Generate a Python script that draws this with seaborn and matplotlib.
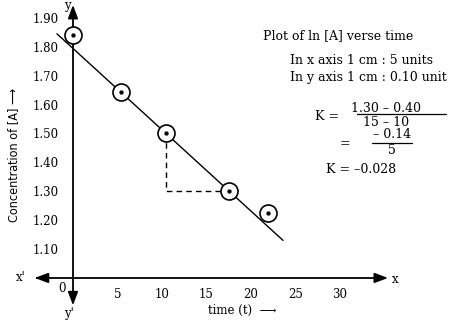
import matplotlib
matplotlib.use("Agg")
import matplotlib.pyplot as plt
import seaborn as sns
import pandas as pd

sns.set_style("white")
plt.rcParams['font.family'] = ['DejaVu Serif']
plt.rcParams['text.color'] = 'black'
plt.rcParams['xtick.color'] = 'black'
plt.rcParams['ytick.color'] = 'black'

# data
time_t = [0, 5.4, 10.4, 17.5, 21.9]
conc_A = [1.84, 1.645, 1.50, 1.30, 1.225]
fit_t = [-1.8, 23.6]
fit_c = [1.845, 1.13]
tri_t = [10.4, 10.4, 17.5]
tri_c = [1.50, 1.30, 1.30]
x_ticks = [5, 10, 15, 20, 25, 30]
y_ticks = [1.10, 1.20, 1.30, 1.40, 1.50, 1.60, 1.70, 1.80, 1.90]
y_tick_labels = ["1.10", "1.20", "1.30", "1.40", "1.50", "1.60", "1.70", "1.80", "1.90"]

df = pd.DataFrame({"t": time_t, "c": conc_A})
fit = pd.DataFrame({"t": fit_t, "c": fit_c})

fig = plt.figure(figsize=(4.5, 3.21), dpi=100)
ax = fig.add_axes([0, 0, 1, 1])
ax.set_xlim(-8.2, 42.36)
ax.set_ylim(0.851, 1.962)

# axes through origin (0, 1.00)
for s in ["top", "right"]:
    ax.spines[s].set_visible(False)
ax.spines["left"].set_position(("data", 0))
ax.spines["bottom"].set_position(("data", 1.0))
ax.spines["left"].set_bounds(0.92, 1.93)
ax.spines["bottom"].set_bounds(-4.0, 35.0)
for s in ["left", "bottom"]:
    ax.spines[s].set_linewidth(1.3)
    ax.spines[s].set_color("black")

ax.set_xticks(x_ticks)
ax.set_xticklabels([str(v) for v in x_ticks])
ax.set_yticks(y_ticks)
ax.set_yticklabels(y_tick_labels)
ax.tick_params(axis="both", direction="inout", length=7, width=1.2, colors="black",
               labelsize=8.5, pad=4)
ax.tick_params(axis="y", pad=7)

# arrow heads
arr = dict(arrowstyle="-|>,head_length=0.8,head_width=0.3", color="black", lw=1.3,
           shrinkA=0, shrinkB=0)
ax.annotate("", xy=(35.4, 1.0), xytext=(34.0, 1.0), arrowprops=arr)
ax.annotate("", xy=(-4.3, 1.0), xytext=(-3.0, 1.0), arrowprops=arr)
ax.annotate("", xy=(0, 1.945), xytext=(0, 1.90), arrowprops=arr)
ax.annotate("", xy=(0, 0.905), xytext=(0, 0.95), arrowprops=arr)

ax.text(-1.2, 0.962, "0", ha="center", va="center", fontsize=8.5)
ax.text(36.2, 0.995, "x", ha="center", va="center", fontsize=8.5)
ax.text(-5.9, 1.0, "x'", ha="center", va="center", fontsize=8.5)
ax.text(-0.6, 1.942, "y", ha="center", va="center", fontsize=8.5)
ax.text(-0.5, 0.878, "y'", ha="center", va="center", fontsize=8.5)

# fit line and points
sns.lineplot(data=fit, x="t", y="c", ax=ax, color="black", lw=1.0)
ax.plot(tri_t, tri_c, color="black", lw=1.0, ls=(0, (4, 3)))
sns.scatterplot(data=df, x="t", y="c", ax=ax, s=150, marker="o", facecolor="white",
                edgecolor="black", linewidth=1.2, zorder=5)
sns.scatterplot(data=df, x="t", y="c", ax=ax, s=8, marker="o", color="black",
                edgecolor="black", zorder=6)
ax.set_xlabel("")
ax.set_ylabel("")

# axis titles
ax.text(19.0, 0.888, "time (t)  \u27f6", ha="center", va="center", fontsize=8.5,
        family=["DejaVu Serif", "DejaVu Sans"])
fig.text(14 / 450, 1 - 155 / 321, "Concentration of [A] \u27f6", rotation=90,
         ha="center", va="center", fontsize=9,
         family=["Liberation Sans Narrow", "DejaVu Sans"], stretch="condensed")

# annotations
fs = 9
fig.text(338 / 450, 1 - 36 / 321, "Plot of ln [A] verse time", ha="center", va="center", fontsize=fs)
fig.text(290 / 450, 1 - 60 / 321, "In x axis 1 cm : 5 units", ha="left", va="center", fontsize=fs)
fig.text(290 / 450, 1 - 77 / 321, "In y axis 1 cm : 0.10 unit", ha="left", va="center", fontsize=fs)
fig.text(327 / 450, 1 - 117 / 321, "K =", ha="center", va="center", fontsize=fs)
fig.text(386 / 450, 1 - 108 / 321, "1.30 \u2013 0.40", ha="center", va="center", fontsize=fs)
fig.add_artist(plt.Line2D([357 / 450, 446 / 450], [1 - 114 / 321, 1 - 114 / 321],
                          color="black", lw=0.9))
fig.text(386 / 450, 1 - 122 / 321, "15 \u2013 10", ha="center", va="center", fontsize=fs)
fig.text(345 / 450, 1 - 144 / 321, "=", ha="center", va="center", fontsize=fs)
fig.text(392 / 450, 1 - 135 / 321, "\u2013 0.14", ha="center", va="center", fontsize=fs)
fig.add_artist(plt.Line2D([372 / 450, 412 / 450], [1 - 143 / 321, 1 - 143 / 321],
                          color="black", lw=0.9))
fig.text(392 / 450, 1 - 151 / 321, "5", ha="center", va="center", fontsize=fs)
fig.text(326 / 450, 1 - 170 / 321, "K = \u20130.028", ha="left", va="center", fontsize=fs)

fig.savefig("out.png", dpi=100)
